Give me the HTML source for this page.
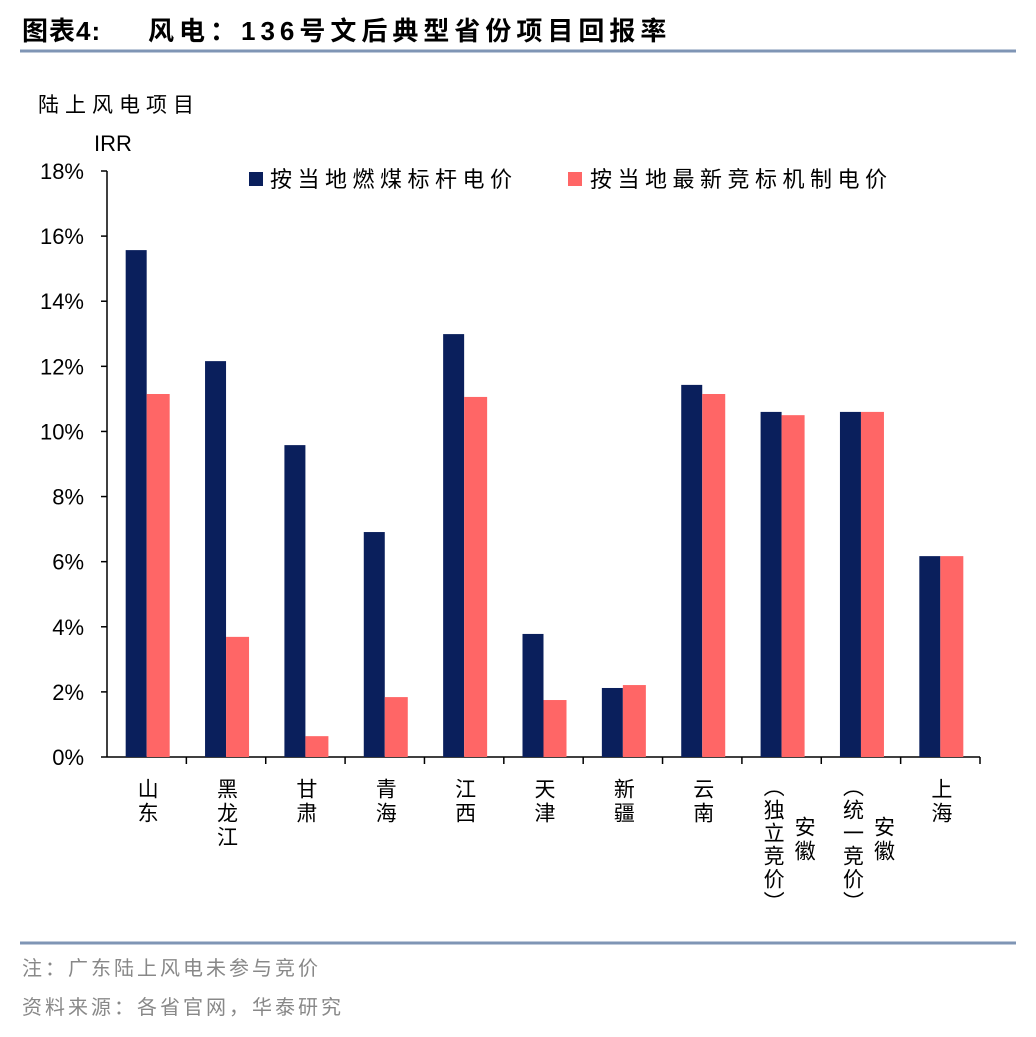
<!DOCTYPE html>
<html><head><meta charset="utf-8"><style>
body{margin:0;background:#fff;width:1036px;height:1032px;overflow:hidden;font-family:"Liberation Sans","Noto Sans CJK SC",sans-serif;}
svg text{font-family:"Liberation Sans","Noto Sans CJK SC",sans-serif;}
</style></head><body>
<svg id="chart" width="1036" height="1032">
<text x="22" y="40" font-size="26" font-weight="bold" fill="#000" letter-spacing="1">图表4:</text>
<text x="148" y="40" font-size="26" font-weight="bold" fill="#000" letter-spacing="5">风电：136号文后典型省份项目回报率</text>
<line x1="20" y1="51" x2="1016" y2="51" stroke="#7f95b5" stroke-width="3"/>
<text x="38" y="112" font-size="21" fill="#000" letter-spacing="6">陆上风电项目</text>
<text x="94" y="151" font-size="22" fill="#000">IRR</text>
<rect x="249" y="172" width="14" height="14" fill="#0a1f5c"/>
<text x="270" y="187" font-size="22" letter-spacing="5.5">按当地燃煤标杆电价</text>
<rect x="568" y="172" width="14" height="14" fill="#ff6666"/>
<text x="590" y="187" font-size="22" letter-spacing="5.5">按当地最新竞标机制电价</text>
<g id="plot"></g>
<line x1="20" y1="943" x2="1016" y2="943" stroke="#7f95b5" stroke-width="3"/>
<text x="22" y="975" font-size="20" fill="#888" letter-spacing="3">注：广东陆上风电未参与竞价</text>
<text x="22" y="1014" font-size="20" fill="#888" letter-spacing="3">资料来源：各省官网，华泰研究</text>
</svg>
<script>
const categories=["山东","黑龙江","甘肃","青海","江西","天津","新疆","云南","安徽|（独立竞价）","安徽|（统一竞价）","上海"];
const coalValues=[15.57,12.16,9.58,6.91,12.99,3.78,2.12,11.43,10.6,10.6,6.17];
const bidValues=[11.15,3.69,0.64,1.84,11.06,1.75,2.21,11.15,10.5,10.6,6.17];
const yTicks=[0,2,4,6,8,10,12,14,16,18];
const NS="http://www.w3.org/2000/svg";
const g=document.getElementById('plot');
const x0=107,x1=980,y0=757,yTop=171,yMax=18;
const y=v=>y0-(v/yMax)*(y0-yTop);
const step=(x1-x0)/categories.length;
function mk(t,a){const e=document.createElementNS(NS,t);for(const k in a)e.setAttribute(k,a[k]);g.appendChild(e);return e;}
let ax=mk('line',{x1:x0,y1:yTop,x2:x0,y2:y0,stroke:'#000','stroke-width':1.5});

yTicks.forEach(t=>{
 const l=mk('line',{x1:x0-6,x2:x0,y1:y(t),y2:y(t),stroke:'#000','stroke-width':1.5});
 
 const tx=mk('text',{x:84,y:y(t)+8,'font-size':22,'text-anchor':'end'});tx.textContent=t+'%';
 
});
let xa=mk('line',{x1:x0,y1:y0,x2:x1,y2:y0,stroke:'#000','stroke-width':1.5});

categories.forEach((c,i)=>{
 const cx=x0+step*(i+0.5);
 const tk=mk('line',{x1:x0+step*(i+1),x2:x0+step*(i+1),y1:y0,y2:y0+7,stroke:'#000','stroke-width':1.5});
 
 const b1=mk('rect',{x:cx-21,y:y(coalValues[i]),width:21,height:y0-y(coalValues[i]),fill:'#0a1f5c'});
 
 const b2=mk('rect',{x:cx,y:y(bidValues[i]),width:23,height:y0-y(bidValues[i]),fill:'#ff6666'});
 
 const parts=c.split('|');
 if(parts.length===1){
  const t=mk('text',{x:cx,y:778,'font-size':21,'writing-mode':'tb','text-anchor':'start','letter-spacing':3});
  t.textContent=c;
 } else {
  const t=mk('text',{x:cx+22,y:816,'font-size':21,'writing-mode':'tb','text-anchor':'start','letter-spacing':3});
  t.textContent=parts[0];
  const t2=mk('text',{x:cx-9,y:776,'font-size':21,'writing-mode':'tb','text-anchor':'start','letter-spacing':2});
  t2.textContent=parts[1];
 }
});
</script>
</body></html>
